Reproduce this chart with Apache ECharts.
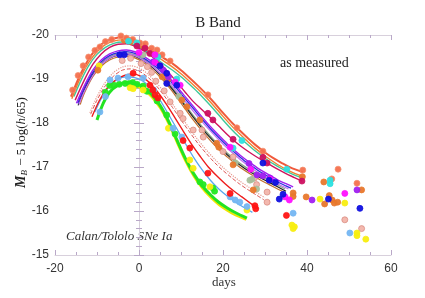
<!DOCTYPE html>
<html><head><meta charset="utf-8">
<script src="https://cdn.jsdelivr.net/npm/echarts@6/dist/echarts.min.js"></script>
<style>html,body{margin:0;padding:0;background:#fff}#c{width:425px;height:298px}</style>
</head><body><div id="c"></div>
<script>
// ---- data: light-curve fits [day, M_B] ----
var tomatoLine = [[-16.2,-18.6],[-14,-19.1],[-12,-19.45],[-10,-19.7],[-8,-19.85],[-6,-19.92],[-4,-19.95],[-2,-19.92],[0,-19.84],[2,-19.72],[4,-19.6],[6,-19.47],[8,-19.35],[10,-19.2],[12,-19.03],[14,-18.85],[16,-18.66],[18,-18.45],[20,-18.23],[22,-18.02],[24,-17.83],[26,-17.65],[28,-17.48],[30,-17.33],[32,-17.2],[34,-17.09],[36,-16.99],[39,-16.88]];
var orangeLine = [[-16,-18.55],[-14,-19.02],[-12,-19.37],[-10,-19.62],[-8,-19.78],[-6,-19.86],[-4,-19.89],[-2,-19.86],[0,-19.78],[2,-19.66],[4,-19.53],[6,-19.4],[8,-19.27],[10,-19.12],[12,-18.95],[14,-18.77],[16,-18.58],[18,-18.37],[20,-18.15],[22,-17.94],[24,-17.75],[26,-17.57],[28,-17.4],[30,-17.25],[32,-17.12],[34,-17.0],[36,-16.9],[39,-16.78]];
var tealLine = [[-15.5,-18.6],[-14,-18.93],[-12,-19.3],[-10,-19.56],[-8,-19.72],[-6,-19.81],[-4,-19.84],[-2,-19.81],[0,-19.73],[2,-19.61],[4,-19.47],[6,-19.33],[8,-19.2],[10,-19.05],[12,-18.88],[14,-18.7],[16,-18.5],[18,-18.29],[20,-18.07],[22,-17.86],[24,-17.67],[26,-17.5],[28,-17.34],[30,-17.2],[32,-17.07],[34,-16.96],[36,-16.86],[39,-16.74]];
var crimsonLine = [[-15.2,-18.52],[-13,-18.98],[-11,-19.33],[-9,-19.57],[-7,-19.72],[-5,-19.79],[-3,-19.8],[-1,-19.75],[1,-19.65],[3,-19.52],[5,-19.35],[7,-19.15],[9,-18.93],[11,-18.7],[13,-18.48],[15,-18.3],[17,-18.12],[19,-17.93],[21,-17.74],[23,-17.57],[25,-17.42],[27,-17.29],[29,-17.17],[31,-17.06],[33,-16.95],[35,-16.85],[37,-16.76],[38.8,-16.68]];
var purpleLine = [[-14.9,-18.45],[-13,-18.85],[-11,-19.2],[-9,-19.43],[-7,-19.57],[-5,-19.64],[-3,-19.66],[-1,-19.62],[1,-19.52],[3,-19.4],[5,-19.24],[7,-19.05],[9,-18.83],[11,-18.6],[13,-18.37],[15,-18.14],[17,-17.92],[19,-17.72],[21,-17.53],[23,-17.36],[25,-17.2],[27,-17.06],[29,-16.93],[31,-16.82],[33,-16.71],[35,-16.62],[36.7,-16.55]];
var blueLine = [[-14.6,-18.45],[-13,-18.8],[-11,-19.15],[-9,-19.39],[-7,-19.53],[-5,-19.6],[-3,-19.62],[-1,-19.58],[1,-19.48],[3,-19.35],[5,-19.19],[7,-19.0],[9,-18.78],[11,-18.55],[13,-18.32],[15,-18.09],[17,-17.87],[19,-17.67],[21,-17.48],[23,-17.31],[25,-17.15],[27,-17.01],[29,-16.88],[31,-16.77],[33,-16.66],[35,-16.57],[36.2,-16.52]];
var violetLine = [[-14.3,-18.42],[-13,-18.72],[-11,-19.08],[-9,-19.33],[-7,-19.48],[-5,-19.55],[-3,-19.57],[-1,-19.53],[1,-19.43],[3,-19.3],[5,-19.13],[7,-18.94],[9,-18.72],[11,-18.49],[13,-18.26],[15,-18.03],[17,-17.82],[19,-17.62],[21,-17.43],[23,-17.26],[25,-17.1],[27,-16.96],[29,-16.83],[31,-16.72],[33,-16.62],[35.6,-16.5]];
var blackLine = [[-14.5,-18.4],[-13,-18.75],[-11,-19.1],[-9,-19.33],[-7,-19.47],[-5,-19.54],[-3,-19.56],[-1,-19.52],[1,-19.42],[3,-19.28],[5,-19.1],[7,-18.88],[9,-18.64],[11,-18.38],[13,-18.12],[15,-17.88],[17,-17.66],[19,-17.46],[21,-17.28],[23,-17.12],[25,-16.98],[27,-16.86],[29,-16.75],[31,-16.65],[33,-16.55],[35,-16.45]];
var brownLine = [[-14,-18.42],[-13,-18.68],[-11,-19.05],[-9,-19.29],[-7,-19.43],[-5,-19.5],[-3,-19.52],[-1,-19.48],[1,-19.38],[3,-19.23],[5,-19.05],[7,-18.83],[9,-18.58],[11,-18.32],[13,-18.06],[15,-17.82],[17,-17.6],[19,-17.4],[21,-17.23],[23,-17.07],[25,-16.93],[27,-16.81],[29,-16.7],[31,-16.6],[33,-16.5],[34.5,-16.43]];
var grayGreenLine = [[-14.2,-18.48],[-13,-18.78],[-11,-19.13],[-9,-19.36],[-7,-19.5],[-5,-19.57],[-3,-19.59],[-1,-19.55],[1,-19.45],[3,-19.31],[5,-19.13],[7,-18.91],[9,-18.67],[11,-18.42],[13,-18.16],[15,-17.92],[17,-17.7],[19,-17.5],[21,-17.32],[23,-17.16],[25,-17.02],[27,-16.9],[29,-16.79],[31,-16.69],[33,-16.59],[34.8,-16.5]];
var pinkDotLine = [[-11.7,-18.23],[-10,-18.6],[-8,-18.93],[-6,-19.15],[-4,-19.27],[-2,-19.3],[0,-19.25],[2,-19.12],[4,-18.93],[6,-18.7],[8,-18.43],[10,-18.15],[12,-17.88],[14,-17.62],[16,-17.39],[18,-17.18],[20,-16.99],[22,-16.83],[24,-16.68],[26,-16.55],[28,-16.42],[30,-16.3]];
var redDashLine = [[-11.5,-18.2],[-10,-18.52],[-8,-18.85],[-6,-19.07],[-4,-19.2],[-2,-19.23],[0,-19.18],[2,-19.05],[4,-18.86],[6,-18.62],[8,-18.35],[10,-18.07],[12,-17.8],[14,-17.54],[16,-17.31],[18,-17.1],[20,-16.92],[22,-16.76],[24,-16.61],[26,-16.48],[28,-16.36],[29.8,-16.25]];
var redLine = [[-11.2,-18.14],[-9.5,-18.5],[-7.5,-18.8],[-5.5,-18.98],[-3.5,-19.08],[-1.5,-19.11],[0.5,-19.06],[2.5,-18.92],[4.5,-18.7],[6.5,-18.43],[8.5,-18.13],[10.5,-17.82],[12.5,-17.52],[14.5,-17.25],[16.5,-17.0],[18.5,-16.8],[20.5,-16.62],[22.5,-16.46],[24.5,-16.32],[26.5,-16.18],[28.4,-16.05]];
var lightBlueLine = [[-10.5,-18.25],[-9,-18.55],[-7,-18.85],[-5,-19.0],[-3,-19.05],[-1,-19.03],[1,-18.95],[3,-18.78],[5,-18.52],[7,-18.2],[9,-17.87],[11,-17.54],[13,-17.22],[15,-16.94],[17,-16.7],[19,-16.5],[21,-16.34],[23,-16.2],[25,-16.08],[27,-15.97]];
var greenLine = [[-10,-18.07],[-8.5,-18.45],[-7,-18.7],[-5,-18.86],[-3,-18.92],[-1,-18.9],[1,-18.82],[3,-18.65],[5,-18.4],[7,-18.05],[9,-17.62],[11,-17.2],[13,-16.85],[15,-16.58],[17,-16.37],[19,-16.2],[21,-16.07],[23,-15.96],[25.7,-15.84]];
var yellowLine = [[-3,-18.86],[-1,-18.84],[1,-18.76],[3,-18.59],[5,-18.34],[7,-17.99],[9,-17.56],[11,-17.14],[13,-16.79],[15,-16.52],[17,-16.31],[19,-16.14],[21,-16.01],[23,-15.9],[25.5,-15.8]];

// ---- data: observations [day, M_B] ----
var tomatoPts = [[-15.8,-18.75],[-14.5,-19.08],[-13.3,-19.3],[-12,-19.5],[-10.5,-19.65],[-9.3,-19.73],[-8,-19.85],[-6.5,-19.9],[-4.3,-19.98],[-3,-19.93],[-1.5,-19.9],[0.2,-19.82],[1.5,-19.8],[3,-19.7],[4.3,-19.66],[5.5,-19.55],[7.4,-19.41],[16.4,-18.64],[23.3,-17.89],[29.5,-17.36],[39,-16.93],[45.9,-16.73],[47.4,-16.95],[51.9,-16.63]];
var orangePts = [[-9.8,-19.2],[-3.5,-19.88],[-2,-19.85],[1,-19.75],[5.5,-19.05],[6.8,-18.98],[10.2,-18.52],[11.4,-18.37],[14.5,-18.07],[18.5,-17.54],[19,-17.45],[22.4,-17.05],[27.2,-16.48],[36.7,-16.41],[36.7,-16.33],[39.8,-16.32],[44,-16.66],[44.2,-16.16],[45.3,-16.35],[46,-16.25],[46.5,-16.18],[47.3,-16.2],[53,-16.48],[38.9,-16.78]];
var redPts = [[-1.4,-19.13],[2.6,-18.86],[3.3,-18.75],[3.8,-18.64],[4.5,-18.57],[10.5,-17.6],[12.1,-17.43],[16.4,-16.86],[21.7,-16.4],[27.6,-16.12],[27.8,-16.05],[35.1,-15.9]];
var crimsonPts = [[-0.5,-19.75],[1.4,-19.7],[2.6,-19.58],[16.4,-18.22],[17.6,-18.07],[22.4,-17.63],[29.5,-17.22],[30.5,-17.09],[38.8,-16.68]];
var magentaPts = [[0,-19.6],[3.8,-19.55],[3.8,-19.38],[5,-19.3],[8.6,-18.93],[9.8,-18.86],[21.7,-17.45],[26.6,-16.95],[31.2,-16.72],[34.8,-16.32],[35.8,-16.25],[49,-16.4]];
var purplePts = [[3.4,-19.39],[5.8,-19.2],[7,-19.05],[26.2,-17.08],[28.1,-16.82],[29.5,-16.8],[31.2,-16.75],[41.2,-16.25],[51.9,-16.48]];
var bluePts = [[-4.6,-19.55],[-3.5,-19.55],[5,-19.3],[6.6,-19.13],[6.6,-18.9],[9,-18.86],[29.5,-17.09],[31,-16.7],[32.5,-16.65],[33.4,-16.27],[34.3,-16.38],[45.1,-16.27],[52.6,-16.06]];
var cyanPts = [[-2.5,-19.86],[-0.5,-19.82],[4.5,-19.5],[9,-19.0],[22.4,-17.43],[24.5,-17.6],[35.2,-16.95],[45.5,-16.7],[45.5,-16.62]];
var greenPts = [[-8,-18.7],[-7,-18.85],[-6,-18.86],[-4.7,-18.88],[-3.3,-18.9],[-2.3,-18.9],[-1.5,-18.92],[-0.5,-18.88],[1,-18.84],[1.9,-18.72],[4.3,-18.5],[6.6,-18.18],[8.6,-17.75],[14.5,-16.66],[15.3,-16.6],[17.6,-16.52],[18,-16.45]];
var yellowPts = [[-9.5,-19.3],[-2.1,-18.8],[-1.4,-18.78],[1,-18.75],[7,-17.88],[12.1,-17.16],[12.9,-16.97],[16.9,-16.55],[25.7,-16.02],[36.4,-15.68],[37,-15.64],[36.7,-15.6],[43.1,-16.27],[49,-16.18],[51.9,-15.5],[51.9,-15.44],[54,-15.36]];
var lightBluePts = [[-9.3,-18.25],[-8,-18.6],[-6.9,-18.98],[-5,-19.02],[-2.6,-19.05],[1,-19.02],[3.5,-18.75],[8.1,-17.88],[10.2,-17.68],[21.7,-16.32],[22.9,-16.25],[24,-16.2],[25.7,-16.1],[36.7,-15.95],[50.2,-15.5]];
var pinkPts = [[-4,-19.42],[-2,-19.47],[0.5,-19.35],[2,-19.28],[3,-19.15],[4,-18.95],[6,-18.73],[7.4,-18.48],[9.8,-18.22],[10.5,-18.1],[12.9,-17.84],[15,-17.84],[15.3,-17.68],[20,-17.35],[22.4,-17.23],[27.5,-16.75],[28,-16.6],[30.5,-16.43],[30.5,-16.2],[49,-15.8],[53,-15.6]];
var grayGreenPts = [[1,-19.55],[9.5,-18.6],[22.9,-17.09],[26.4,-16.7],[26.9,-16.72],[28,-16.5]];

var xTicks = [-20, 0, 20, 40, 60];
var yTicks = [-20, -19, -18, -17, -16, -15];

// ---- build ----
var lineDefs = [
  [yellowLine, '#f0e400', 2, 'solid'],
  [greenLine, '#22e322', 3, 'solid'],
  [lightBlueLine, '#5aa8ee', 1.3, 'solid'],
  [redLine, '#ee1c1c', 1.4, 'solid'],
  [redDashLine, '#dd5555', 1, 'dashed'],
  [pinkDotLine, '#e89a90', 1.2, 'dotted'],
  [brownLine, '#c0702e', 1.2, 'solid'],
  [grayGreenLine, '#8aa888', 1.3, 'solid'],
  [blackLine, '#222222', 1.2, 'solid'],
  [violetLine, '#c070f0', 1.3, 'solid'],
  [blueLine, '#2a2ae0', 1.3, 'solid'],
  [purpleLine, '#a020f0', 1.4, 'solid'],
  [crimsonLine, '#d0145c', 1.4, 'solid'],
  [tealLine, '#3ec89a', 1.4, 'solid'],
  [orangeLine, '#f08030', 1.4, 'solid'],
  [tomatoLine, '#f05a3c', 2, 'solid']
];
var ptDefs = [
  [pinkPts, '#f2b4aa', '#d98a80'],
  [grayGreenPts, '#a9bf9c', '#a9bf9c'],
  [greenPts, '#22e822', '#22e822'],
  [yellowPts, '#f8ee10', '#f8ee10'],
  [lightBluePts, '#74b6f2', '#74b6f2'],
  [redPts, '#ff1414', '#ff1414'],
  [orangePts, '#e8782c', '#e8782c'],
  [tomatoPts, '#f4704e', '#f4906e'],
  [cyanPts, '#2ee0e0', '#2ee0e0'],
  [crimsonPts, '#cc1060', '#cc1060'],
  [purplePts, '#a020f0', '#a020f0'],
  [magentaPts, '#ff10ff', '#ff10ff'],
  [bluePts, '#1010e0', '#1010e0']
];
var series = [];
lineDefs.forEach(function (d) {
  series.push({type: 'line', data: d[0], showSymbol: false, smooth: 0.3, silent: true,
    lineStyle: {color: d[1], width: d[2], type: d[3]}, z: 2});
});
ptDefs.forEach(function (d) {
  series.push({type: 'scatter', data: d[0], symbolSize: 6, silent: true,
    itemStyle: {color: d[1], borderColor: d[2], borderWidth: 0.8, opacity: 0.95}, z: 3});
});

var chart = echarts.init(document.getElementById('c'), null, {renderer: 'canvas'});
var sans = 'Liberation Sans';
var tickCol = '#b9a8c8';
function xAx(pos, showLabel) {
  return {type: 'value', position: pos, min: xTicks[0], max: xTicks[xTicks.length - 1], interval: 20,
    axisLine: {show: true, lineStyle: {color: '#d8d0dc', width: 1}},
    axisTick: {show: true, inside: true, length: 5, lineStyle: {color: tickCol}},
    minorTick: {show: true, splitNumber: 4, length: 3, lineStyle: {color: tickCol}},
    splitLine: {show: false},
    axisLabel: {show: showLabel, fontFamily: sans, fontSize: 12, color: '#333', margin: 8}};
}
function yAx(pos, showLabel) {
  return {type: 'value', position: pos, inverse: true, min: yTicks[0], max: yTicks[yTicks.length - 1], interval: 1,
    axisLine: {show: true, lineStyle: {color: '#d8d0dc', width: 1}},
    axisTick: {show: true, inside: true, length: 5, lineStyle: {color: tickCol}},
    minorTick: {show: true, splitNumber: 5, length: 3, lineStyle: {color: tickCol}},
    splitLine: {show: false},
    axisLabel: {show: showLabel, fontFamily: sans, fontSize: 12, color: '#333', margin: 6}};
}
chart.setOption({
  animation: false,
  backgroundColor: '#ffffff',
  grid: {left: 55, right: 34, top: 35, bottom: 43},
  xAxis: [xAx('bottom', true), xAx('top', false)],
  yAxis: [yAx('left', true), yAx('right', false)],
  series: series,
  graphic: [
    {type: 'text', x: 218, y: 23, style: {text: 'B Band', font: '15px "Liberation Serif"', fill: '#222', textAlign: 'center', textVerticalAlign: 'middle'}},
    {type: 'text', x: 280, y: 56, style: {text: 'as measured', font: '14px "Liberation Serif"', fill: '#222'}},
    {type: 'text', x: 66, y: 230, style: {text: 'Calan/Tololo SNe Ia', font: 'italic 13px "Liberation Serif"', fill: '#333'}},
    {type: 'text', x: 212, y: 276, style: {text: 'days', font: '13px "Liberation Serif"', fill: '#333'}},
    {type: 'text', x: 14, y: 188, rotation: Math.PI / 2,
      style: {text: '{m|M}{s|B}{n| \u2212 5 log(}{i|h}{n|/65)}', rich: {
        m: {font: 'italic bold 14px "Liberation Serif"', fill: '#222', verticalAlign: 'middle'},
        s: {font: 'italic 9px "Liberation Serif"', fill: '#222', verticalAlign: 'bottom', padding: [6, 1, 0, 0]},
        n: {font: '13px "Liberation Serif"', fill: '#222', verticalAlign: 'middle'},
        i: {font: 'italic 13px "Liberation Serif"', fill: '#222', verticalAlign: 'middle'}
      }}}
  ]
});
</script></body></html>
